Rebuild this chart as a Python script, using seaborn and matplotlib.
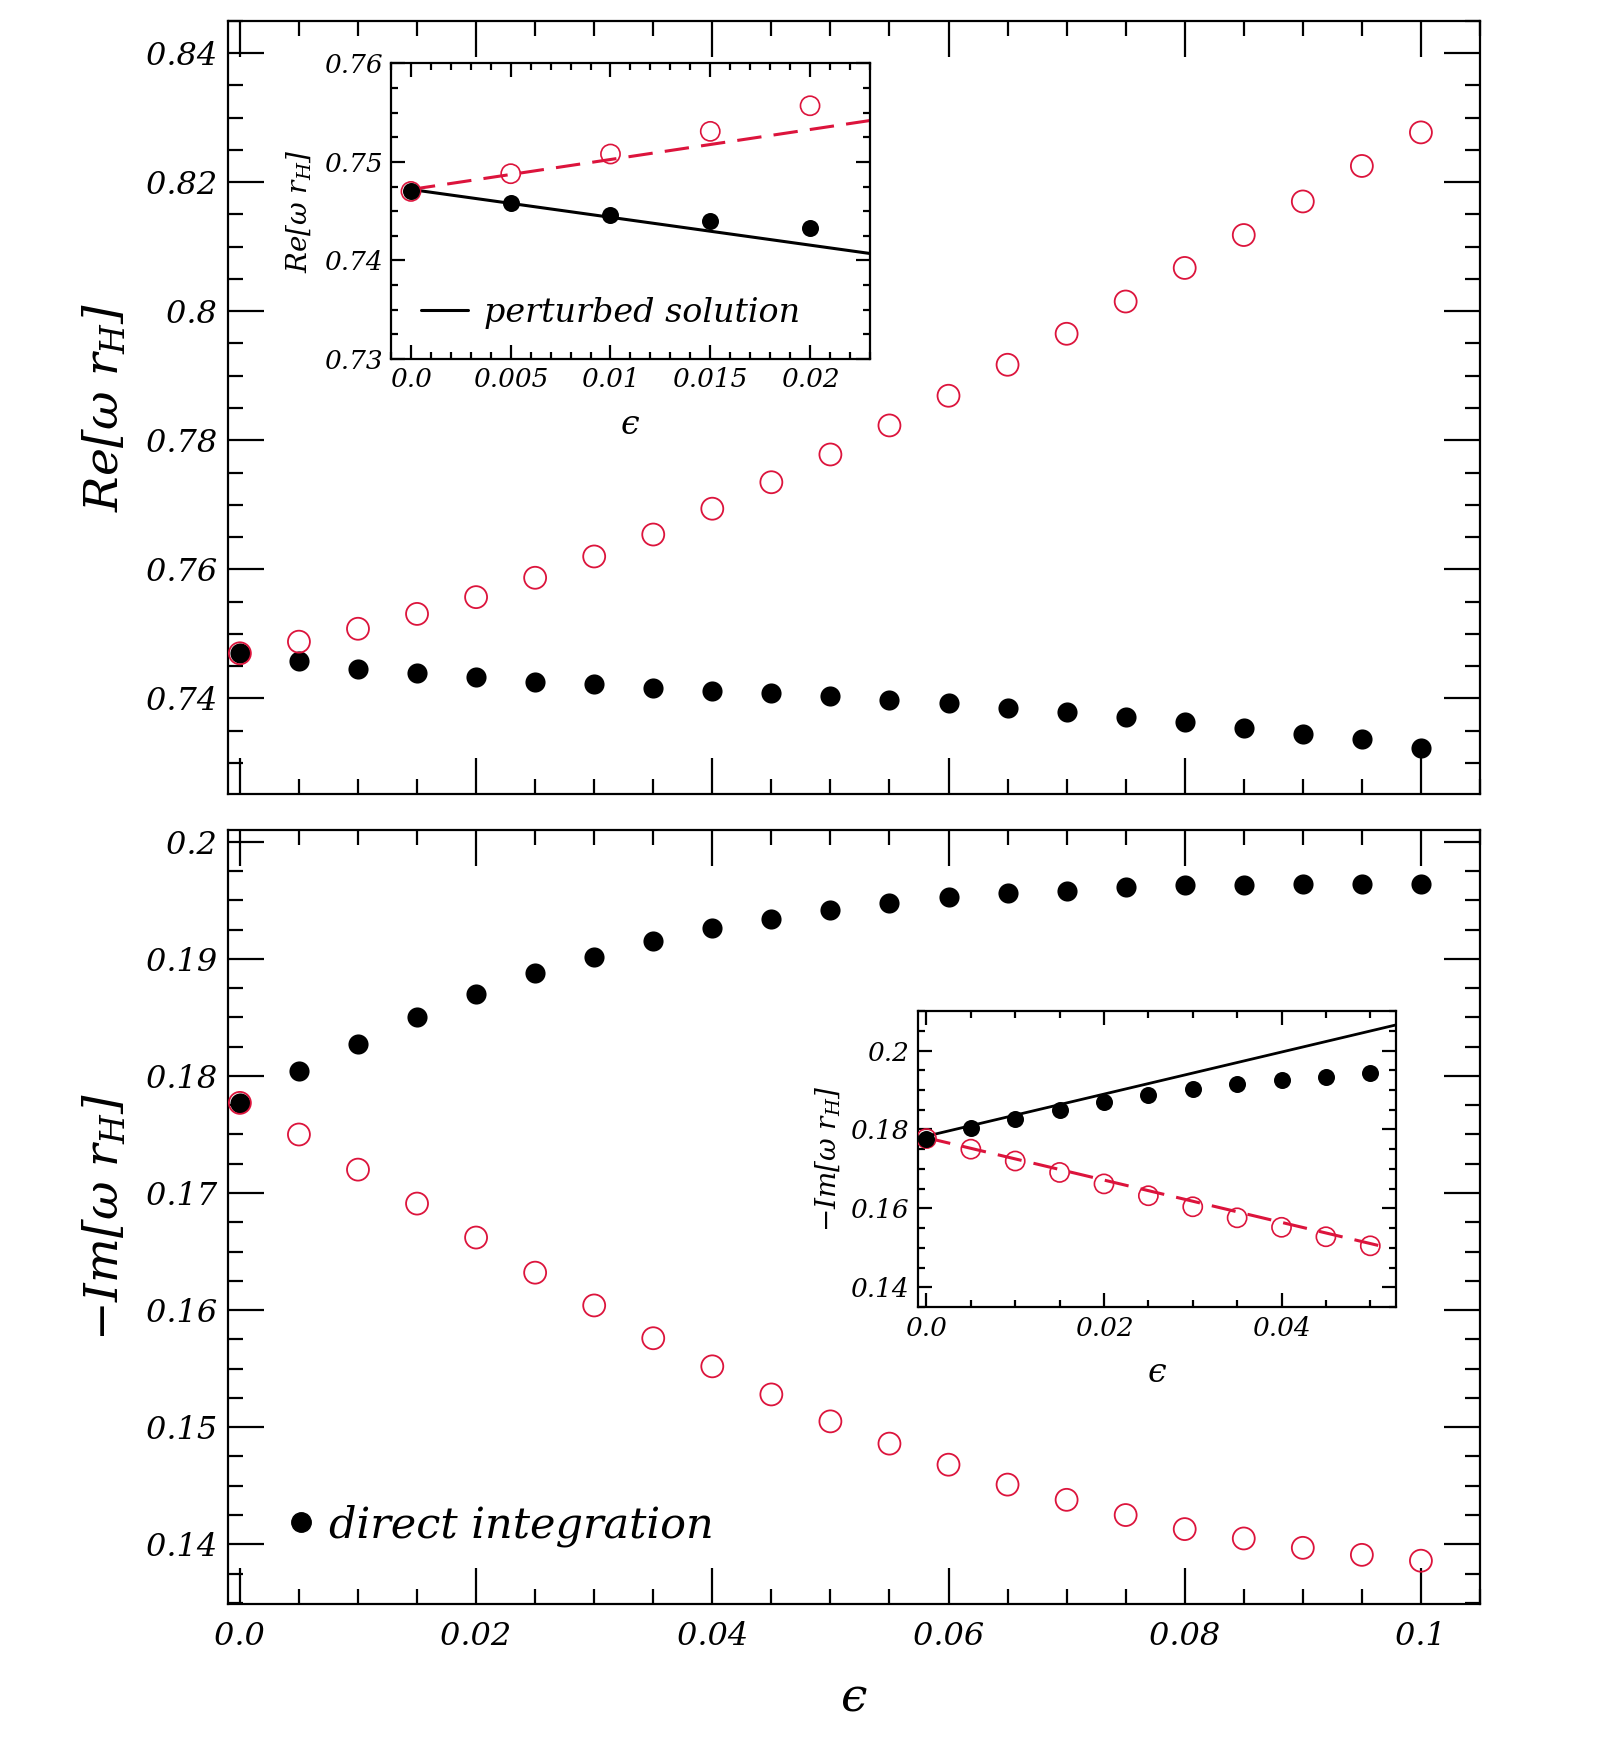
import numpy as np
import pandas as pd
import matplotlib
matplotlib.use("Agg")
import matplotlib.pyplot as plt
from matplotlib.lines import Line2D
from matplotlib.ticker import MultipleLocator, FixedLocator, FixedFormatter
import seaborn as sns

# ---------------- data ----------------
eps = [0.0, 0.005, 0.01, 0.015, 0.02, 0.025, 0.03, 0.035, 0.04, 0.045, 0.05,
       0.055, 0.06, 0.065, 0.07, 0.075, 0.08, 0.085, 0.09, 0.095, 0.1]

re_direct = [0.7470, 0.7458, 0.7446, 0.7440, 0.7433, 0.7426, 0.7422, 0.7417, 0.7412, 0.7409, 0.7404,
             0.7398, 0.7393, 0.7386, 0.7379, 0.7371, 0.7364, 0.7354, 0.7345, 0.7337, 0.7324]
re_other = [0.7470, 0.7488, 0.7508, 0.7531, 0.7557, 0.7587, 0.7620, 0.7654, 0.7694, 0.7735, 0.7778,
            0.7823, 0.7869, 0.7917, 0.7965, 0.8015, 0.8067, 0.8118, 0.8170, 0.8225, 0.8277]

im_direct = [0.1777, 0.1804, 0.1827, 0.1850, 0.1870, 0.1888, 0.1902, 0.1915, 0.1926, 0.1934, 0.1942,
             0.1948, 0.1953, 0.1956, 0.1958, 0.1961, 0.1963, 0.1963, 0.1964, 0.1964, 0.1964]
im_other = [0.1777, 0.1750, 0.1720, 0.1691, 0.1662, 0.1632, 0.1604, 0.1576, 0.1552, 0.1528, 0.1505,
            0.1486, 0.1468, 0.1451, 0.1438, 0.1425, 0.1413, 0.1405, 0.1397, 0.1391, 0.1386]

# perturbed (linear) solutions, endpoints
eps_pert_re = [0.0, 0.023]
re_pert_direct = [0.7472, 0.7407]
re_pert_other = [0.7472, 0.7542]
eps_pert_im_a = [0.0, 0.0529]
im_pert_direct = [0.1783, 0.2065]
eps_pert_im_b = [0.0, 0.0522]
im_pert_other = [0.1779, 0.1499]

# tick labels
main_xticks = [0.0, 0.02, 0.04, 0.06, 0.08, 0.1]
main_xlabels = ["0.0", "0.02", "0.04", "0.06", "0.08", "0.1"]
top_yticks = [0.74, 0.76, 0.78, 0.80, 0.82, 0.84]
top_ylabels = ["0.74", "0.76", "0.78", "0.8", "0.82", "0.84"]
bot_yticks = [0.14, 0.15, 0.16, 0.17, 0.18, 0.19, 0.20]
bot_ylabels = ["0.14", "0.15", "0.16", "0.17", "0.18", "0.19", "0.2"]
in1_xticks = [0.0, 0.005, 0.01, 0.015, 0.02]
in1_xlabels = ["0.0", "0.005", "0.01", "0.015", "0.02"]
in1_yticks = [0.73, 0.74, 0.75, 0.76]
in1_ylabels = ["0.73", "0.74", "0.75", "0.76"]
in2_xticks = [0.0, 0.02, 0.04]
in2_xlabels = ["0.0", "0.02", "0.04"]
in2_yticks = [0.14, 0.16, 0.18, 0.20]
in2_ylabels = ["0.14", "0.16", "0.18", "0.2"]

EPS_LABEL = "\u03f5"

df = pd.DataFrame({"eps": eps, "re_d": re_direct, "re_o": re_other,
                   "im_d": im_direct, "im_o": im_other})

# ---------------- style ----------------
sns.set_style("ticks")
plt.rcParams["font.family"] = ["DejaVu Serif", "DejaVu Sans"]
plt.rcParams["font.style"] = "italic"
plt.rcParams["mathtext.fontset"] = "custom"
plt.rcParams["mathtext.it"] = "DejaVu Serif:italic"
plt.rcParams["mathtext.rm"] = "DejaVu Serif:italic"
plt.rcParams["mathtext.cal"] = "DejaVu Serif:italic"
plt.rcParams["axes.linewidth"] = 1.6
for k in ["text.color", "axes.labelcolor", "xtick.color", "ytick.color", "axes.edgecolor"]:
    plt.rcParams[k] = "black"

RED = "#dc143c"
BLACK = "black"

fig = plt.figure(figsize=(16.05, 17.42), dpi=100)
ax_top = fig.add_axes([0.1421, 0.5442, 0.7800, 0.4439])
ax_bot = fig.add_axes([0.1421, 0.0792, 0.7800, 0.4443])
in_top = fig.add_axes([0.2436, 0.7940, 0.2984, 0.1696])
in_bot = fig.add_axes([0.5717, 0.2495, 0.2981, 0.1703])


def style_axis(ax, xt, xl, yt, yl, xminor, yminor, fs, majlen, minlen, pad, show_x=True):
    ax.set_facecolor("white")
    ax.xaxis.set_major_locator(FixedLocator(xt))
    ax.yaxis.set_major_locator(FixedLocator(yt))
    if show_x:
        ax.xaxis.set_major_formatter(FixedFormatter(xl))
    else:
        ax.set_xticklabels([])
    ax.yaxis.set_major_formatter(FixedFormatter(yl))
    ax.xaxis.set_minor_locator(MultipleLocator(xminor))
    ax.yaxis.set_minor_locator(MultipleLocator(yminor))
    ax.tick_params(which="both", direction="in", top=True, right=True, width=1.6,
                   labelsize=fs, pad=pad, colors="black")
    ax.tick_params(which="major", length=majlen)
    ax.tick_params(which="minor", length=minlen)
    for lab in ax.get_xticklabels() + ax.get_yticklabels():
        lab.set_fontstyle("italic")
    for s in ax.spines.values():
        s.set_visible(True)
        s.set_color("black")


# ---------------- top main ----------------
sns.scatterplot(data=df, x="eps", y="re_o", ax=ax_top, s=250, marker="o",
                color=RED, facecolors="none", edgecolor=RED, linewidth=1.3, legend=False, zorder=3)
sns.scatterplot(data=df, x="eps", y="re_d", ax=ax_top, s=210, marker="o",
                color=BLACK, edgecolor=BLACK, linewidth=0, legend=False, zorder=2)
ax_top.set_xlim(-0.001, 0.105)
ax_top.set_ylim(0.7252, 0.845)
style_axis(ax_top, main_xticks, main_xlabels, top_yticks, top_ylabels, 0.005, 0.005,
           23, 26, 11, 8, show_x=False)
ax_top.set_xlabel("")
ax_top.set_ylabel(r"$Re[\omega\ r_H]$", fontsize=34, labelpad=12)

# ---------------- bottom main ----------------
sns.scatterplot(data=df, x="eps", y="im_o", ax=ax_bot, s=250, marker="o",
                color=RED, facecolors="none", edgecolor=RED, linewidth=1.3, legend=False, zorder=3)
sns.scatterplot(data=df, x="eps", y="im_d", ax=ax_bot, s=210, marker="o",
                color=BLACK, edgecolor=BLACK, linewidth=0, legend=False, zorder=2)
ax_bot.set_xlim(-0.001, 0.105)
ax_bot.set_ylim(0.1349, 0.201)
style_axis(ax_bot, main_xticks, main_xlabels, bot_yticks, bot_ylabels, 0.005, 0.0025,
           23, 26, 11, 8)
ax_bot.tick_params(axis="x", pad=12)
ax_bot.set_xlabel(EPS_LABEL, fontsize=34, labelpad=18)
ax_bot.set_ylabel(r"$-Im[\omega\ r_H]$", fontsize=34, labelpad=12)
h_direct = Line2D([], [], ls="none", marker="o", color=BLACK, markersize=14)
ax_bot.legend(handles=[h_direct], labels=["direct integration"], loc="lower left",
              bbox_to_anchor=(0.01, 0.024), frameon=False, handletextpad=0.15,
              handlelength=1.0, prop={"style": "italic", "size": 31})

# ---------------- top inset ----------------
sns.lineplot(x=eps_pert_re, y=re_pert_direct, ax=in_top, color=BLACK, lw=2.2, zorder=2)
sns.lineplot(x=eps_pert_re, y=re_pert_other, ax=in_top, color=RED, lw=2.2, zorder=2)
in_top.lines[-1].set_dashes([8, 4])
sub1 = df[df["eps"] <= 0.0201]
sns.scatterplot(data=sub1, x="eps", y="re_o", ax=in_top, s=190, marker="o",
                color=RED, facecolors="none", edgecolor=RED, linewidth=1.2, legend=False, zorder=3)
sns.scatterplot(data=sub1, x="eps", y="re_d", ax=in_top, s=150, marker="o",
                color=BLACK, edgecolor=BLACK, linewidth=0, legend=False, zorder=4)
in_top.set_xlim(-0.001, 0.023)
in_top.set_ylim(0.73, 0.76)
style_axis(in_top, in1_xticks, in1_xlabels, in1_yticks, in1_ylabels, 0.001, 0.0025,
           19, 10, 5, 6)
in_top.set_xlabel(EPS_LABEL, fontsize=24, labelpad=12)
in_top.set_ylabel(r"$Re[\omega\ r_H]$", fontsize=20, labelpad=8)
h_pert = Line2D([], [], color=BLACK, lw=2.2)
in_top.legend(handles=[h_pert], labels=["perturbed solution"], loc="lower left",
              bbox_to_anchor=(0.0, 0.0), frameon=False, handlelength=1.4, handletextpad=0.5,
              prop={"style": "italic", "size": 24})

# ---------------- bottom inset ----------------
sns.lineplot(x=eps_pert_im_a, y=im_pert_direct, ax=in_bot, color=BLACK, lw=2.0, zorder=2)
sns.lineplot(x=eps_pert_im_b, y=im_pert_other, ax=in_bot, color=RED, lw=2.2, zorder=2)
in_bot.lines[-1].set_dashes([8, 4])
sub2 = df[df["eps"] <= 0.0501]
sns.scatterplot(data=sub2, x="eps", y="im_o", ax=in_bot, s=190, marker="o",
                color=RED, facecolors="none", edgecolor=RED, linewidth=1.2, legend=False, zorder=3)
sns.scatterplot(data=sub2, x="eps", y="im_d", ax=in_bot, s=150, marker="o",
                color=BLACK, edgecolor=BLACK, linewidth=0, legend=False, zorder=4)
in_bot.set_xlim(-0.001, 0.0529)
in_bot.set_ylim(0.1349, 0.2101)
style_axis(in_bot, in2_xticks, in2_xlabels, in2_yticks, in2_ylabels, 0.005, 0.005,
           19, 10, 5, 6)
in_bot.set_xlabel(EPS_LABEL, fontsize=24, labelpad=12)
in_bot.set_ylabel(r"$-Im[\omega\ r_H]$", fontsize=20, labelpad=6)

fig.savefig("out.png", dpi=100, facecolor="white")
